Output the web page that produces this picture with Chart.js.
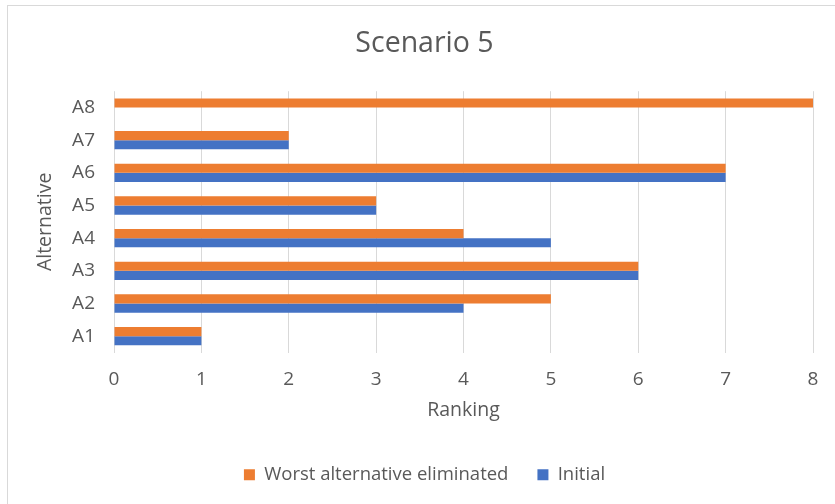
<!DOCTYPE html>
<html>
<head>
<meta charset="utf-8">
<script src="https://cdn.jsdelivr.net/npm/chart.js@4/dist/chart.umd.min.js"></script>
<style>
  html, body { margin: 0; padding: 0; background: #fff; }
  #frame { position: absolute; left: 7px; top: 5px; width: 900px; height: 600px; border: 1px solid #d9d9d9; }
  #wrap { position: absolute; left: 0; top: 0; width: 835px; height: 504px; }
</style>
</head>
<body>
<div id="frame"></div>
<div id="wrap"><canvas id="chart" width="835" height="504"></canvas></div>
<script>
// categories, bottom to top
const alternatives = ['A1', 'A2', 'A3', 'A4', 'A5', 'A6', 'A7', 'A8'];

// ranking values
const worstEliminated = [1, 5, 6, 4, 3, 7, 2, 8];
const initial = [1, 4, 6, 5, 3, 7, 2, null];

const rankingTicks = [0, 1, 2, 3, 4, 5, 6, 7, 8];

const textColor = '#595959';
const fontFamily = '"Open Sans", sans-serif';

const ctx = document.getElementById('chart');

new Chart(ctx, {
  type: 'bar',
  data: {
    labels: alternatives,
    datasets: [{
      label: 'Worst alternative eliminated',
      data: worstEliminated,
      backgroundColor: '#ED7D31',
      categoryPercentage: 0.56,
      barPercentage: 1
    }, {
      label: 'Initial',
      data: initial,
      backgroundColor: '#4472C4',
      categoryPercentage: 0.56,
      barPercentage: 1
    }]
  },
  options: {
    indexAxis: 'y',
    responsive: false,
    animation: false,
    layout: { padding: { left: 36, right: 22, top: 0, bottom: 10 } },
    scales: {
      x: {
        min: 0,
        max: 8,
        afterBuildTicks: (scale) => { scale.ticks = rankingTicks.map(v => ({ value: v })); },
        grid: { color: '#d9d9d9', lineWidth: 1, drawTicks: false },
        border: { display: false },
        ticks: { color: textColor, font: { family: fontFamily, size: 19 }, padding: 16 },
        title: {
          display: true,
          text: 'Ranking',
          color: textColor,
          font: { family: fontFamily, size: 19.5 },
          padding: { top: 4, bottom: 14 }
        },
        afterFit: (scale) => { scale.height = 84; }
      },
      y: {
        reverse: true,
        grid: { display: false, drawTicks: false },
        border: { display: false },
        ticks: { color: textColor, font: { family: fontFamily, size: 19 }, padding: 19 },
        title: {
          display: true,
          text: 'Alternative',
          color: textColor,
          font: { family: fontFamily, size: 19.5 },
          padding: { top: -2, bottom: 0 }
        },
        afterFit: (scale) => { scale.width = 78; }
      }
    },
    plugins: {
      title: {
        display: true,
        text: 'Scenario 5',
        color: textColor,
        font: { family: fontFamily, size: 28.5, weight: 'normal' },
        padding: { top: 27, bottom: 30 }
      },
      legend: {
        position: 'bottom',
        labels: {
          color: textColor,
          font: { family: fontFamily, size: 18.5 },
          boxWidth: 11,
          boxHeight: 11,
          padding: 29
        }
      },
      tooltip: { enabled: false }
    }
  }
});
</script>
</body>
</html>
